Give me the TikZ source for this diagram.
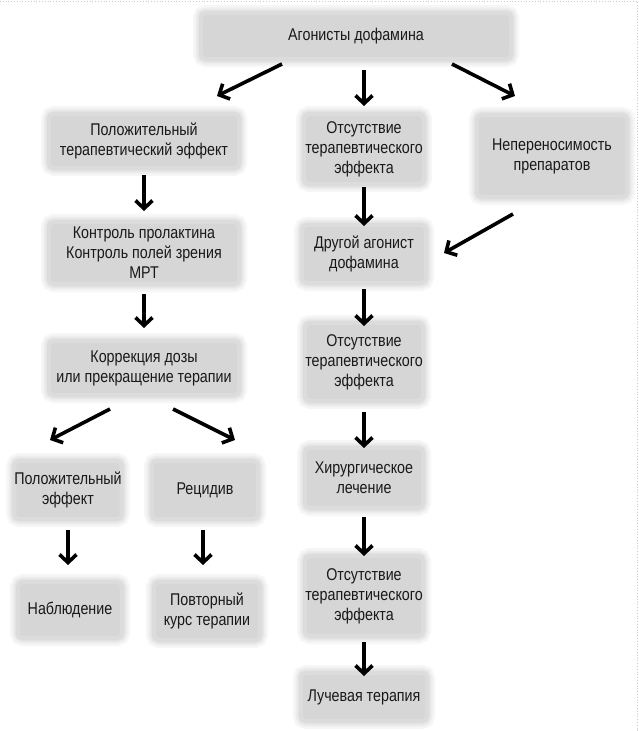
\documentclass[tikz,border=0pt]{standalone}
\usepackage{fontspec}
\setmainfont[FakeStretch=0.84]{Liberation Sans}
\usetikzlibrary{arrows.meta}
\definecolor{boxgray}{RGB}{214,214,214}
\definecolor{txtgray}{RGB}{25,25,25}
\begin{document}
\begin{tikzpicture}
  [x=1pt,y=-1pt,
   boxN/.style={rectangle,rounded corners=5pt,fill=boxgray,
     draw=boxgray!85,line width=4pt,
     preaction={draw=boxgray!22,line width=16pt},
     preaction={draw=boxgray!45,line width=11pt},
     preaction={draw=boxgray!68,line width=7pt},
     align=center,inner sep=0pt,text=txtgray,
     font=\fontsize{17}{20}\selectfont},
   arrN/.style={line width=3.6pt,-{Straight Barb[length=8pt,width=17pt]}}
  ]
  \useasboundingbox (0,0) rectangle (639,731);
  \draw[gray!40,dotted,line width=0.8pt] (0,1) -- (637,1) -- (637,731);

  \node[boxN,minimum width=310pt,minimum height=46pt] (ag) at (356,36) {Агонисты дофамина};

  \node[boxN,minimum width=190pt,minimum height=54pt] (pos) at (144,141) {Положительный\\терапевтический эффект};
  \node[boxN,minimum width=190pt,minimum height=62pt] (kon) at (144,253) {Контроль пролактина\\Контроль полей зрения\\МРТ};
  \node[boxN,minimum width=190pt,minimum height=54pt] (kor) at (144,368) {Коррекция дозы\\или прекращение терапии};

  \node[boxN,minimum width=120pt,minimum height=70pt] (ots1) at (364,149) {Отсутствие\\терапевтического\\эффекта};
  \node[boxN,minimum width=124pt,minimum height=58pt] (dru) at (364,254) {Другой агонист\\дофамина};
  \node[boxN,minimum width=118pt,minimum height=78pt] (ots2) at (364,362) {Отсутствие\\терапевтического\\эффекта};
  \node[boxN,minimum width=118pt,minimum height=60pt] (hir) at (364,478) {Хирургическое\\лечение};
  \node[boxN,minimum width=118pt,minimum height=80pt] (ots3) at (364,596) {Отсутствие\\терапевтического\\эффекта};
  \node[boxN,minimum width=126pt,minimum height=48pt] (luch) at (364,697) {Лучевая терапия};

  \node[boxN,minimum width=150pt,minimum height=82pt] (nep) at (552,156) {Непереносимость\\препаратов};

  \node[boxN,minimum width=102pt,minimum height=58pt] (pe) at (68,490) {Положительный\\эффект};
  \node[boxN,minimum width=106pt,minimum height=58pt] (rec) at (205,490) {Рецидив};
  \node[boxN,minimum width=104pt,minimum height=56pt] (nab) at (70,610) {Наблюдение};
  \node[boxN,minimum width=106pt,minimum height=58pt] (pov) at (207,611) {Повторный\\курс терапии};

  \foreach \a/\b/\sx/\sy/\ex/\ey in {ag/pos/-74/3/73/-16, ag/ots1/8/9/0/-6, ag/nep/96/3/-37/-17,
      pos/kon/0/5/0/-9, kon/kor/0/8/0/-11,
      ots1/dru/0/1/0/3, dru/ots2/0/4/0/5, ots2/hir/0/9/0/2, hir/ots3/0/7/0/2, ots3/luch/0/4/0/5,
      kor/pe/-34/12/-18/-19, kor/rec/29/12/30/-19,
      pe/nab/0/9/-2/-15, rec/pov/-2/9/-4/-15} {
      \draw[arrN] ([shift={(\sx,\sy)}]\a.south) -- ([shift={(\ex,\ey)}]\b.north);
  }
  \draw[arrN] ([shift={(-39,15)}]nep.south) -- ([shift={(16,-1)}]dru.east);

\end{tikzpicture}
\end{document}
